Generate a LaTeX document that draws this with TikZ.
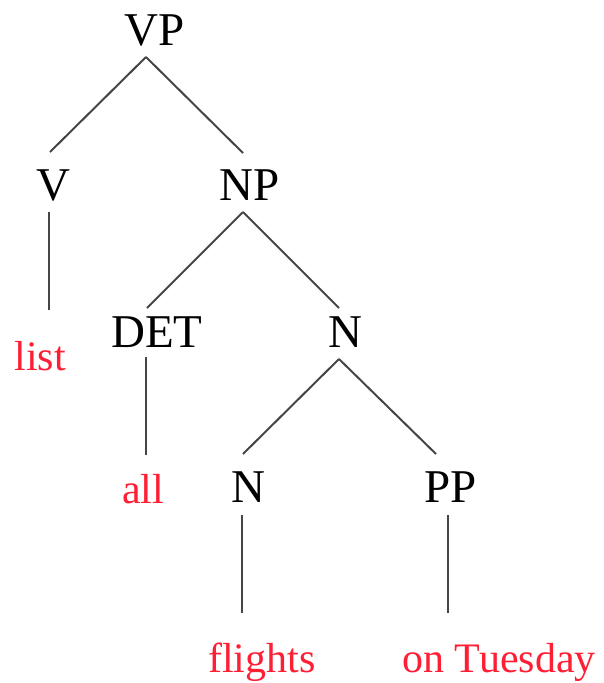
\documentclass[tikz,border=0pt]{standalone}
\usepackage{fontspec}
\setmainfont{Liberation Serif}
\definecolor{wordred}{HTML}{FF1F35}
\definecolor{edgegray}{HTML}{454545}
\begin{document}
\begin{tikzpicture}[x=1pt,y=1pt,
  cat/.style={anchor=base,inner sep=0pt,font=\fontsize{47}{50}\selectfont,text=black},
  word/.style={anchor=base,inner sep=0pt,font=\fontsize{42}{46}\selectfont,text=wordred},
  edge/.style={draw=edgegray,line width=2pt}]
\useasboundingbox (0,0) rectangle (604,-683);
% nodes
\node[cat] (VP) at (155,-45) {VP};
\node[cat] (V) at (53,-200) {V};
\node[cat] (NP) at (250,-200) {NP};
\node[word] (list) at (40,-370) {list};
\node[cat] (DET) at (157,-347) {DET};
\node[cat] (N1) at (345,-347) {N};
\node[word] (all) at (143,-503) {all};
\node[cat] (N2) at (248,-502) {N};
\node[cat] (PP) at (451,-502) {PP};
\node[word] (flights) at (262,-672) {flights};
\node[word] (tue) at (499,-672) {on Tuesday};
% edges
\draw[edge] ([xshift=-9pt,yshift=-12pt]VP.base) -- ([xshift=-3pt,yshift=48pt]V.base);
\draw[edge] ([xshift=-9pt,yshift=-12pt]VP.base) -- ([xshift=-7pt,yshift=47pt]NP.base);
\draw[edge] ([xshift=-4pt,yshift=-12pt]V.base) -- ([xshift=9pt,yshift=60pt]list.base);
\draw[edge] ([xshift=-7pt,yshift=-12pt]NP.base) -- ([xshift=-10pt,yshift=39pt]DET.base);
\draw[edge] ([xshift=-7pt,yshift=-12pt]NP.base) -- ([xshift=-6pt,yshift=39pt]N1.base);
\draw[edge] ([xshift=-11pt,yshift=-10pt]DET.base) -- ([xshift=3pt,yshift=48pt]all.base);
\draw[edge] ([xshift=-6pt,yshift=-12pt]N1.base) -- ([xshift=-5pt,yshift=48pt]N2.base);
\draw[edge] ([xshift=-6pt,yshift=-12pt]N1.base) -- ([xshift=-15pt,yshift=48pt]PP.base);
\draw[edge] ([xshift=-6pt,yshift=-13pt]N2.base) -- ([xshift=-20pt,yshift=59pt]flights.base);
\draw[edge] ([xshift=-3pt,yshift=-13pt]PP.base) -- ([xshift=-51pt,yshift=59pt]tue.base);
\end{tikzpicture}
\end{document}
